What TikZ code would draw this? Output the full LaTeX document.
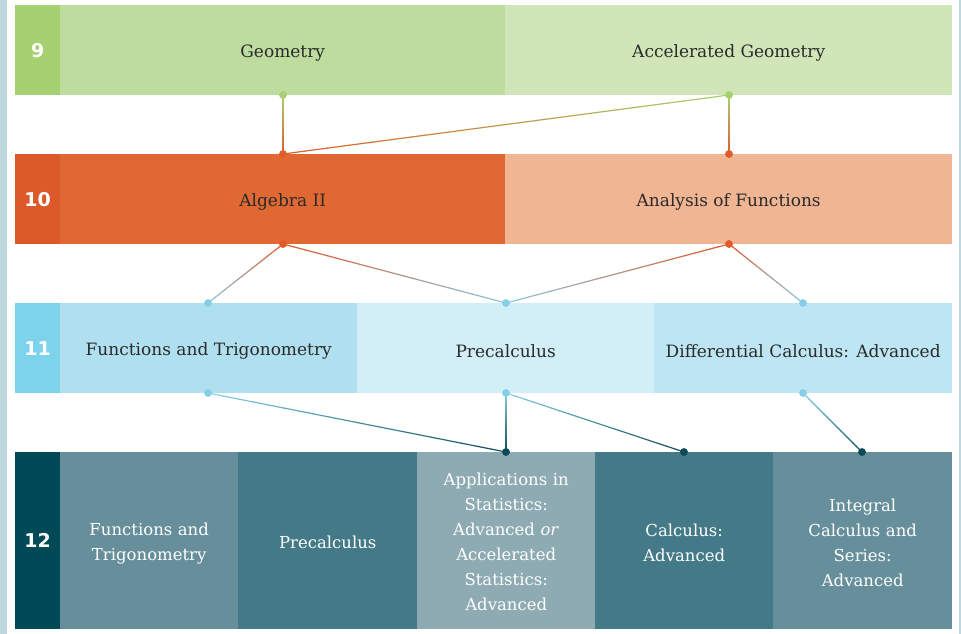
\documentclass[tikz,border=0pt]{standalone}
\usepackage{fontspec}
\setmainfont{DejaVu Serif}
\newfontfamily\numfont{DejaVu Sans}[BoldFont={* Bold}]
\usetikzlibrary{calc}
\definecolor{frame}{HTML}{BFD8DE}
\definecolor{gN}{HTML}{A5D173}
\definecolor{gA}{HTML}{BDDC9E}
\definecolor{gB}{HTML}{D0E6B9}
\definecolor{oN}{HTML}{DC5A2A}
\definecolor{oA}{HTML}{E06833}
\definecolor{oB}{HTML}{F0B593}
\definecolor{bN}{HTML}{7DD3EB}
\definecolor{bA}{HTML}{B0E0F0}
\definecolor{bB}{HTML}{D2EEF6}
\definecolor{bC}{HTML}{BDE5F3}
\definecolor{tN}{HTML}{004A57}
\definecolor{tA}{HTML}{668F9B}
\definecolor{tB}{HTML}{447A87}
\definecolor{tC}{HTML}{8EAAB3}
\definecolor{txt}{HTML}{2A2A2A}
\definecolor{dg}{HTML}{A8D070}
\definecolor{dor}{HTML}{E05A2A}
\definecolor{db}{HTML}{86CFE6}
\definecolor{dt}{HTML}{0B4A56}
\tikzset{
  cell/.style={draw=none, anchor=north west, inner sep=0pt, align=center, font=\fontsize{17}{22}\selectfont, text=txt},
  darkcell/.style={cell, text=white, text width=170pt, font=\fontsize{16.5}{25}\selectfont},
  num/.style={cell, text=white, font=\numfont\bfseries\fontsize{19}{22}\selectfont},
  dot/.style={circle, inner sep=0pt, minimum size=7.5pt, draw=none},
  conn/.style={line width=1.2pt, line cap=round}
}
\newcommand\tx[1]{\raisebox{-3pt}[\height][\depth]{#1}}
\newcommand\gline[4]{%
  \foreach \ii [evaluate=\ii as \pc using {int(100-\ii*5)}, evaluate=\ii as \sa using {\ii/20}, evaluate=\ii as \sb using {(\ii+1)/20}] in {0,...,19}{%
    \draw[conn, draw=#3!\pc!#4] ($(#1)!\sa!(#2)$) -- ($(#1)!\sb!(#2)$);}}
\begin{document}
\begin{tikzpicture}[x=1pt,y=-1pt]
\useasboundingbox (0,0) rectangle (961,634);
\fill[white] (0,0) rectangle (961,634);
\fill[frame] (0,0) rectangle (7,634);
\fill[frame] (959,0) rectangle (961,634);
% row 9
\node[num, fill=gN, minimum width=45pt, minimum height=90pt] (n9) at (15,5) {9};
\node[cell, fill=gA, minimum width=445pt, minimum height=90pt] (geo) at (60,5) {\tx{Geometry}};
\node[cell, fill=gB, minimum width=447pt, minimum height=90pt] (ageo) at (505,5) {\tx{Accelerated Geometry}};
% row 10
\node[num, fill=oN, minimum width=45pt, minimum height=90pt] (n10) at (15,154) {10};
\node[cell, fill=oA, minimum width=445pt, minimum height=90pt] (alg) at (60,154) {\tx{Algebra II}};
\node[cell, fill=oB, minimum width=447pt, minimum height=90pt] (aof) at (505,154) {\tx{Analysis of Functions}};
% row 11
\node[num, fill=bN, minimum width=45pt, minimum height=90pt] (n11) at (15,303) {11};
\node[cell, fill=bA, minimum width=297pt, minimum height=90pt] (ft11) at (60,303) {\tx{Functions and Trigonometry}};
\node[cell, fill=bB, minimum width=297pt, minimum height=90pt] (pc11) at (357,303) {\tx{Precalculus}};
\node[cell, fill=bC, minimum width=298pt, minimum height=90pt] (dc11) at (654,303) {\tx{Differential Calculus: Advanced}};
% row 12
\node[num, fill=tN, minimum width=45pt, minimum height=177pt] (n12) at (15,452) {12};
\node[fill=tA, anchor=north west, inner sep=0pt, minimum width=178pt, minimum height=177pt] (ft12) at (60,452) {};
\node[fill=tB, anchor=north west, inner sep=0pt, minimum width=179pt, minimum height=177pt] (pc12) at (238,452) {};
\node[fill=tC, anchor=north west, inner sep=0pt, minimum width=178pt, minimum height=177pt] (as12) at (417,452) {};
\node[fill=tB, anchor=north west, inner sep=0pt, minimum width=178pt, minimum height=177pt] (ca12) at (595,452) {};
\node[fill=tA, anchor=north west, inner sep=0pt, minimum width=179pt, minimum height=177pt] (ic12) at (773,452) {};
\node[darkcell, anchor=center] (ft12t) at ([yshift=-2.5pt]ft12.center) {Functions and\\Trigonometry};
\node[darkcell, anchor=center] (pc12t) at ([yshift=-2pt]pc12.center) {Precalculus};
\node[darkcell, anchor=center] (as12t) at ([yshift=-1.5pt]as12.center) {Applications in\\Statistics:\\Advanced \textit{or}\\Accelerated\\Statistics:\\Advanced};
\node[darkcell, anchor=center] (ca12t) at ([yshift=-2pt]ca12.center) {Calculus:\\Advanced};
\node[darkcell, anchor=center] (ic12t) at ([yshift=-2pt]ic12.center) {Integral\\Calculus and\\Series:\\Advanced};
% dots
\node[dot, fill=dg] (a1) at (283,95) {};
\node[dot, fill=dg] (a2) at (729,95) {};
\node[dot, fill=dor] (b1) at (283,154) {};
\node[dot, fill=dor] (b2) at (729,154) {};
\node[dot, fill=dor] (c1) at (283,244) {};
\node[dot, fill=dor] (c2) at (729,244) {};
\node[dot, fill=db] (d1) at (208,303) {};
\node[dot, fill=db] (d2) at (506,303) {};
\node[dot, fill=db] (d3) at (803,303) {};
\node[dot, fill=db] (e1) at (208,393) {};
\node[dot, fill=db] (e2) at (506,393) {};
\node[dot, fill=db] (e3) at (803,393) {};
\node[dot, fill=dt] (f1) at (506,452) {};
\node[dot, fill=dt] (f2) at (684,452) {};
\node[dot, fill=dt] (f3) at (862,452) {};
% connectors
\gline{a1}{b1}{dg}{dor}
\gline{a2}{b2}{dg}{dor}
\gline{a2}{b1}{dg}{dor}
\gline{c1}{d1}{dor}{db}
\gline{c1}{d2}{dor}{db}
\gline{c2}{d2}{dor}{db}
\gline{c2}{d3}{dor}{db}
\gline{e1}{f1}{db}{dt}
\gline{e2}{f1}{db}{dt}
\gline{e2}{f2}{db}{dt}
\gline{e3}{f3}{db}{dt}
% redraw dots on top
\foreach \d/\c in {a1/dg,a2/dg,b1/dor,b2/dor,c1/dor,c2/dor,d1/db,d2/db,d3/db,e1/db,e2/db,e3/db,f1/dt,f2/dt,f3/dt}
  \fill[\c] (\d) circle (3.75pt);
\end{tikzpicture}
\end{document}
